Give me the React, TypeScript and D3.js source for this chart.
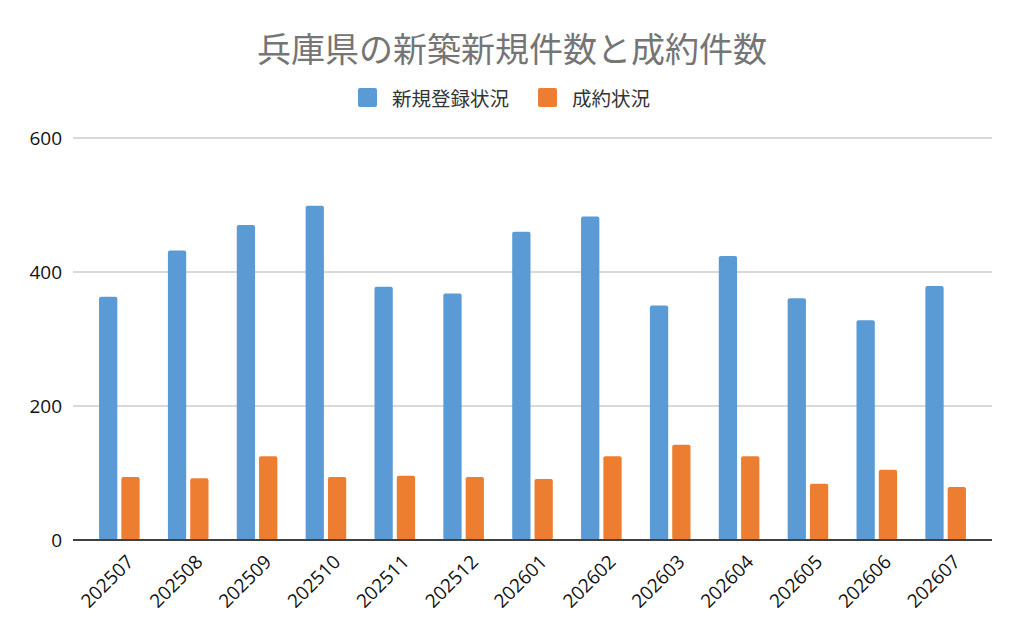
import React from 'react';
import * as d3 from 'd3';

const months = [
  '202507', '202508', '202509', '202510', '202511', '202512', '202601',
  '202602', '202603', '202604', '202605', '202606', '202607',
];
const newListings = [363, 432, 470, 499, 378, 368, 460, 483, 350, 424, 361, 328, 379];
const contracts = [94, 92, 125, 94, 96, 94, 91, 125, 142, 125, 84, 105, 79];
const seriesNames = ['新規登録状況', '成約状況'];
const seriesColors = ['#5b9bd5', '#ed7d31'];
const yTicks = [0, 200, 400, 600];
const chartTitle = '兵庫県の新築新規件数と成約件数';

const W = 1024;
const H = 633;
const left = 73;
const right = 992;
const top = 138;
const bottom = 540;

const jp = '"Noto Sans CJK JP", "Noto Sans", sans-serif';
const num = '"Open Sans", "Noto Sans", sans-serif';

const App: React.FC = () => {
  const x = d3.scalePoint<string>().domain(months).range([left, right]).padding(0.673);
  const sub = d3.scaleBand<number>().domain([0, 1]).range([-20.3, 20.3]).paddingInner(0.18);
  const y = d3.scaleLinear().domain([0, 600]).range([bottom, top]);

  const rows = months.map((m, i) => ({ m, vals: [newListings[i], contracts[i]] }));

  // legend: square + text per item
  const legendFs = 19.5;
  let lx = 358;
  const legendItems = seriesNames.map((name, i) => {
    const item = { name, color: seriesColors[i], x: lx };
    lx += 34 + name.length * legendFs + 29;
    return item;
  });

  return (
    <svg width={W} height={H} style={{ position: 'absolute', left: 0, top: 0, background: '#fff' }}>
      <text x={W / 2} y={47} textAnchor="middle" dominantBaseline="central"
        fontFamily={jp} fontSize={34} fill="#757575">{chartTitle}</text>

      {legendItems.map((it) => (
        <g key={it.name}>
          <rect x={it.x} y={88} width={19} height={19} rx={2} fill={it.color} />
          <text x={it.x + 34} y={97.5} dominantBaseline="central" fontFamily={jp}
            fontSize={legendFs} fill="#333">{it.name}</text>
        </g>
      ))}

      {yTicks.filter((t) => t > 0).map((t) => (
        <line key={t} x1={left} x2={right} y1={y(t)} y2={y(t)} stroke="#cccccc" strokeWidth={1.3} />
      ))}
      {yTicks.map((t) => (
        <text key={t} x={62} y={y(t)} textAnchor="end" dominantBaseline="central"
          fontFamily={num} fontSize={19} fill="#111">{t}</text>
      ))}

      {rows.map((r) => (
        <g key={r.m} transform={`translate(${x(r.m)},0)`}>
          {r.vals.map((v, k) => (
            <rect key={k} x={sub(k)} y={y(v)} width={sub.bandwidth()} height={bottom - y(v)}
              rx={2} fill={seriesColors[k]} />
          ))}
        </g>
      ))}

      <line x1={left} x2={right} y1={bottom} y2={bottom} stroke="#404040" strokeWidth={2} />

      {months.map((m) => {
        const px = (x(m) || 0) + 15.7;
        const py = 563;
        return (
          <text key={m} x={px} y={py} textAnchor="end" transform={`rotate(-45,${px},${py})`}
            fontFamily={num} fontSize={19} fill="#111">{m}</text>
        );
      })}
    </svg>
  );
};

export default App;
